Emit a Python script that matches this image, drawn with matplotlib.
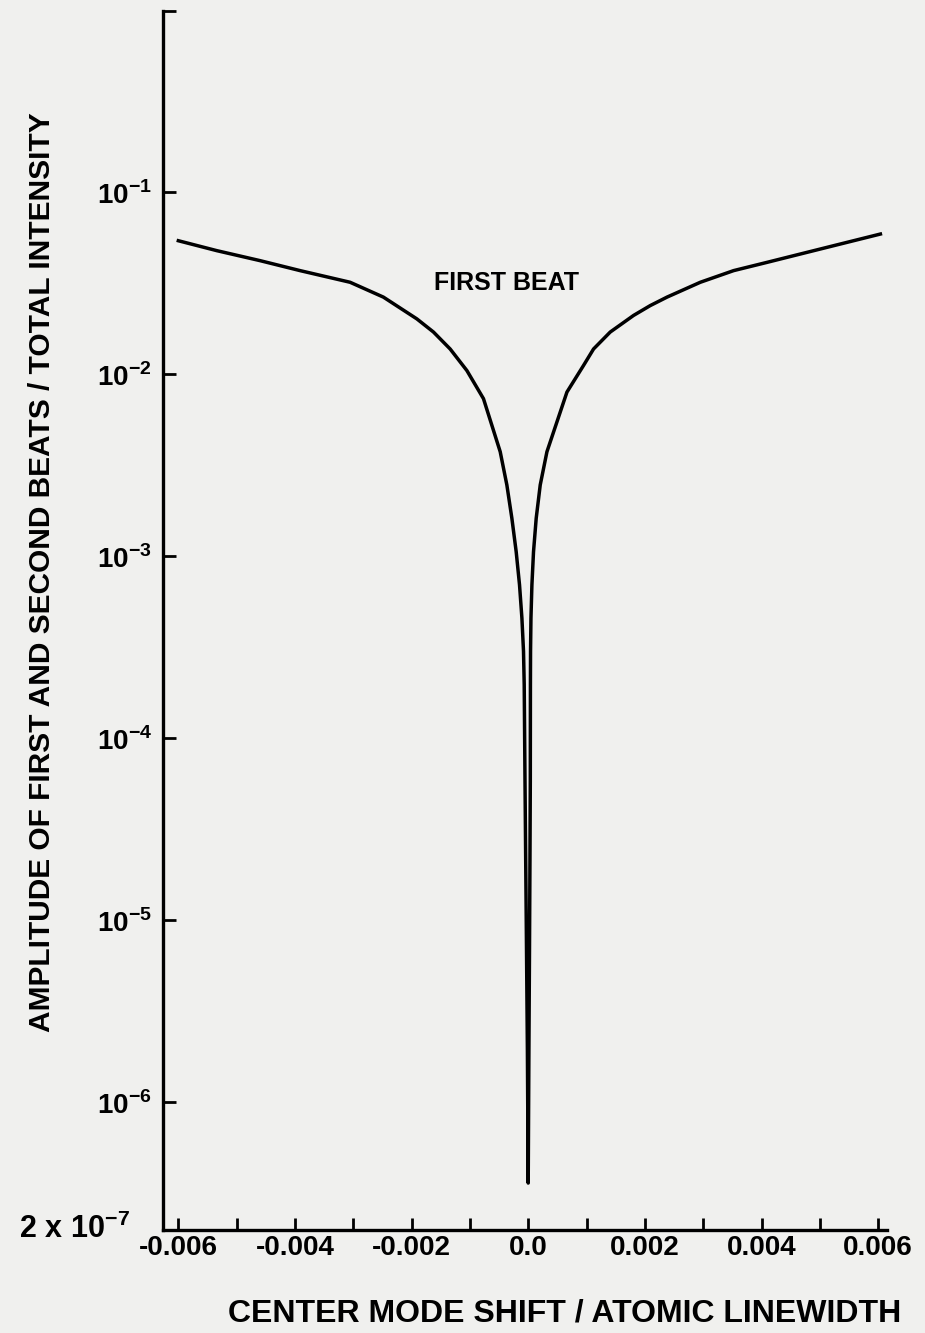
import matplotlib
matplotlib.use("Agg")
import matplotlib.pyplot as plt
from matplotlib.ticker import FixedLocator, FixedFormatter

plt.rcParams['font.family'] = ['Liberation Sans', 'DejaVu Sans']
plt.rcParams['font.weight'] = 'bold'
plt.rcParams['mathtext.fontset'] = 'custom'
plt.rcParams['mathtext.rm'] = 'Liberation Sans:bold'
plt.rcParams['mathtext.bf'] = 'Liberation Sans:bold'
plt.rcParams['axes.unicode_minus'] = False

# left branch of the first-beat curve
left_shift = [-0.005997, -0.005339, -0.004596, -0.00391, -0.003053, -0.002482,
              -0.001909, -0.001624, -0.001338, -0.001051, -0.000767,
              -0.00048, -0.000366, -0.00028, -0.000206, -0.000149, -0.000108,
              -0.0000806, -0.0000686, -0.000055, -0.000043, -0.000029, -0.000014, 0.0]
left_amp = [0.0543, 0.0479, 0.0422, 0.0372, 0.0321, 0.0266,
            0.0202, 0.0171, 0.0138, 0.0105, 0.00736,
            0.00376, 0.00247, 0.00162, 0.00106, 6.98e-4, 4.58e-4,
            3.01e-4, 1.98e-4, 5.82e-5, 2.12e-5, 6.81e-6, 1.93e-6, 3.6e-7]

# right branch
right_shift = [0.000012, 0.000022, 0.00003, 0.000036, 0.000038, 0.00004,
               0.000047, 0.0000635, 0.0000909, 0.000137, 0.000206, 0.000321,
               0.000664, 0.000948, 0.00112, 0.001406, 0.001806,
               0.002092, 0.002379, 0.00295, 0.003521, 0.004094, 0.004665,
               0.005236, 0.006037]
right_amp = [1.93e-6, 6.81e-6, 2.12e-5, 5.82e-5, 1.98e-4, 3.01e-4,
             4.58e-4, 6.98e-4, 1.06e-3, 1.62e-3, 2.47e-3, 3.76e-3,
             0.0080, 0.0112, 0.0138, 0.0171, 0.0211,
             0.0239, 0.0266, 0.0321, 0.0372, 0.0413, 0.0459,
             0.0510, 0.0591]

x_ticks = [-0.006, -0.004, -0.002, 0.0, 0.002, 0.004, 0.006]
x_tick_labels = ['-0.006', '-0.004', '-0.002', '0.0', '0.002', '0.004', '0.006']
x_minor = [-0.005, -0.003, -0.001, 0.001, 0.003, 0.005]
y_ticks = [1e-6, 1e-5, 1e-4, 1e-3, 1e-2, 1e-1, 1.0]
y_tick_labels = [r'$10^{-6}$', r'$10^{-5}$', r'$10^{-4}$',
                 r'$10^{-3}$', r'$10^{-2}$', r'$10^{-1}$', '']
y_bottom = 2e-7
y_bottom_label = r'$2\;\mathrm{x}\;10^{-7}$'

bg = '#f0f0ee'
fig = plt.figure(figsize=(9.25, 13.33), dpi=100, facecolor=bg)
ax = fig.add_axes([163 / 925, 103.5 / 1333, 724 / 925, 1219 / 1333])
ax.set_facecolor(bg)

ax.plot(left_shift + right_shift, left_amp + right_amp, color='black', lw=2.5,
        solid_joinstyle='round')

ax.set_yscale('log')
ax.set_xlim(-0.00626, 0.00615)
ax.set_ylim(y_bottom, 1.0)

ax.xaxis.set_major_locator(FixedLocator(x_ticks))
ax.xaxis.set_major_formatter(FixedFormatter(x_tick_labels))
ax.xaxis.set_minor_locator(FixedLocator(x_minor))
ax.yaxis.set_major_locator(FixedLocator(y_ticks))
ax.yaxis.set_major_formatter(FixedFormatter(y_tick_labels))
ax.yaxis.set_minor_locator(FixedLocator([]))

ax.tick_params(axis='both', which='both', direction='in', length=9, width=2, color='black')
ax.tick_params(axis='x', labelsize=20, pad=4)
ax.tick_params(axis='y', labelsize=20, pad=8)

for side in ['top', 'right']:
    ax.spines[side].set_visible(False)
for side in ['left', 'bottom']:
    ax.spines[side].set_linewidth(2.4)

# bottom-of-axis value, set off to the left like the original
ax.annotate(y_bottom_label, xy=(0, y_bottom), xycoords=('axes fraction', 'data'),
            xytext=(-33, 0), textcoords='offset pixels', fontsize=22,
            ha='right', va='center')

ax.text(-0.00038, 0.032, 'FIRST BEAT', fontsize=18, fontweight='bold',
        ha='center', va='center')

fig.text(565 / 925, 1 - 1313 / 1333, 'CENTER MODE SHIFT / ATOMIC LINEWIDTH',
         fontsize=23, fontweight='bold', ha='center', va='center')
fig.text(42 / 925, 1 - 572 / 1333, 'AMPLITUDE OF FIRST AND SECOND BEATS / TOTAL INTENSITY',
         fontsize=21.5, fontweight='bold', ha='center', va='center', rotation=90)

fig.savefig('out.png', dpi=100, facecolor=bg)
